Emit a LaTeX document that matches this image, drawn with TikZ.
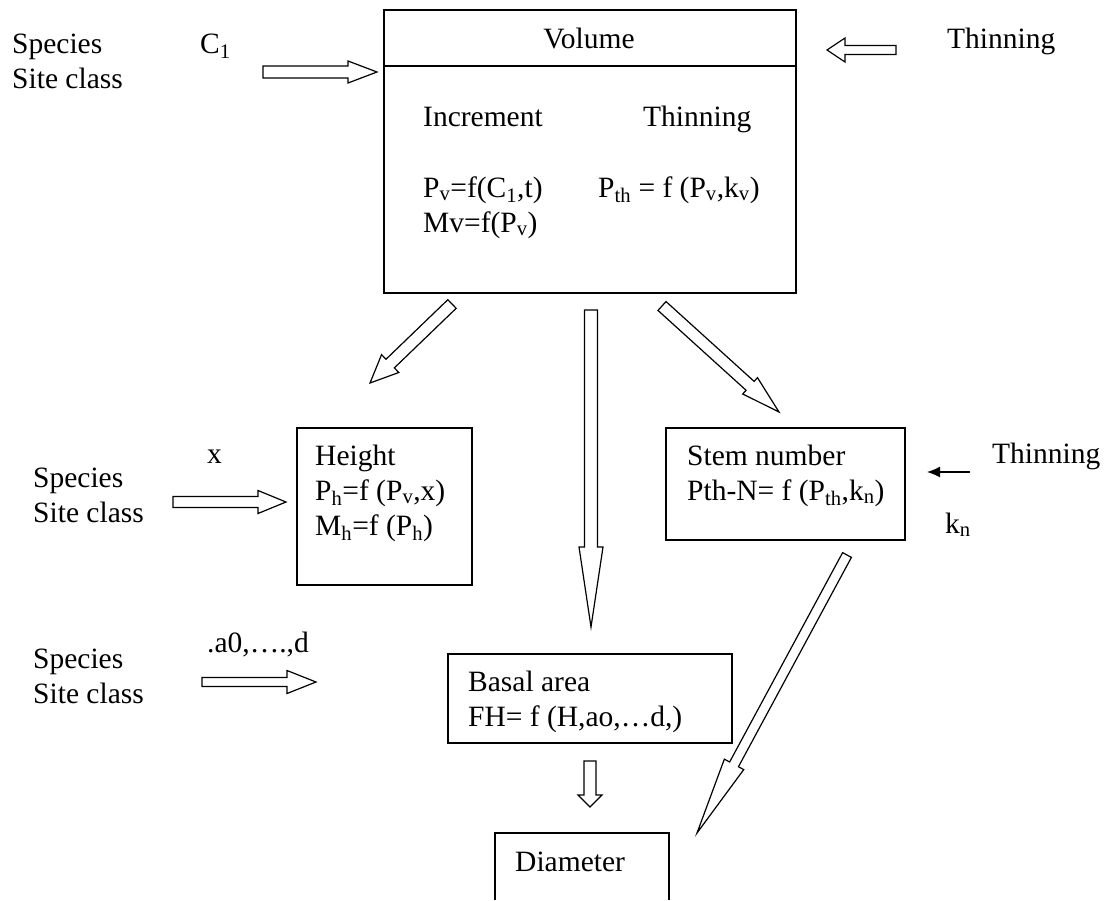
\documentclass[tikz,border=0pt]{standalone}
\usepackage{fontspec}
\setmainfont{Liberation Serif}
\usetikzlibrary{calc,arrows.meta}
\tikzset{
  boxline/.style={draw=black, line width=1.6pt},
  box/.style={boxline, rectangle, inner sep=0pt, anchor=north west},
  hollow/.style={draw=black, fill=white, line width=1.2pt, line join=miter},
  lbl/.style={inner sep=0pt, anchor=base west, font=\fontsize{29.5}{35}\selectfont},
  thinarrow/.style={draw=black, line width=1.3pt, -{Latex[length=13pt,width=11pt]}}
}
% #1 tail, #2 tip, #3 shaft half width, #4 head half width, #5 head length
\newcommand{\hollowarrow}[5]{%
  \coordinate (hbase) at ($(#2)!#5!(#1)$);
  \draw[hollow] ($(#1)!#3!90:(#2)$) -- ($(hbase)!#3!90:(#2)$) -- ($(hbase)!#4!90:(#2)$)
    -- (#2) -- ($(hbase)!#4!-90:(#2)$) -- ($(hbase)!#3!-90:(#2)$) -- ($(#1)!#3!-90:(#2)$) -- cycle;
}
\newcommand{\tl}[1]{\begin{tabular}[t]{@{}l@{}}#1\end{tabular}}
\begin{document}
\begin{tikzpicture}[x=1pt,y=-1pt]
\useasboundingbox (0,0) rectangle (1105,900);

% ---------- boxes ----------
\node[box, minimum width=412pt, minimum height=283pt] (vol) at (383,9) {};
\draw[boxline] ($(vol.north west)+(0,57)$) -- ($(vol.north east)+(0,57)$);
\node[box, minimum width=175pt, minimum height=157pt] (hgt) at (296,427) {};
\node[box, minimum width=239pt, minimum height=112pt] (stem) at (665,427) {};
\node[box, minimum width=284pt, minimum height=89pt] (bas) at (447,653) {};
\coordinate (dbl) at (495,900);
\coordinate (dtl) at (495,833);
\coordinate (dtr) at (669,833);
\coordinate (dbr) at (669,900);
\draw[boxline] (dbl) -- (dtl) -- (dtr) -- (dbr);

% ---------- texts ----------
\node[lbl] (sp1) at (12,53) {\tl{Species\\Site class}};
\node[lbl] (c1) at (200,53) {C\textsubscript{1}};
\node[lbl, anchor=base] (voltitle) at (589,48) {Volume};
\node[lbl] (incr) at (423,126) {Increment};
\node[lbl] (thin1) at (643,126) {Thinning};
\node[lbl] (pv) at (423,197) {\tl{P\textsubscript{v}=f(C\textsubscript{1},t)\\Mv=f(P\textsubscript{v})}};
\node[lbl] (pth) at (598,197) {P\textsubscript{th} = f (P\textsubscript{v},k\textsubscript{v})};
\node[lbl] (thin2) at (947,48) {Thinning};

\node[lbl] (sp2) at (33,487) {\tl{Species\\Site class}};
\node[lbl] (xl) at (207,463) {x};
\node[lbl] (hgttxt) at (315,465) {\tl{Height\\P\textsubscript{h}=f (P\textsubscript{v},x)\\M\textsubscript{h}=f (P\textsubscript{h})}};
\node[lbl] (stemtxt) at (687,465) {\tl{Stem number\\Pth-N= f (P\textsubscript{th},k\textsubscript{n})}};
\node[lbl] (thin3) at (992,463) {Thinning};
\node[lbl] (kn) at (945,533) {k\textsubscript{n}};

\node[lbl] (a0) at (207,652) {.a0,….,d};
\node[lbl] (sp3) at (33,668) {\tl{Species\\Site class}};
\node[lbl] (bastxt) at (468,691) {\tl{Basal area\\FH= f (H,ao,…d,)}};
\node[lbl] (diatxt) at (515,871) {Diameter};

% ---------- arrow end points ----------
\coordinate (a1t) at (263,72);   \coordinate (a1h) at (377,72);
\coordinate (a2t) at (896,50);   \coordinate (a2h) at (827,50);
\coordinate (a3t) at (452,304);  \coordinate (a3h) at (370,383);
\coordinate (a4t) at (591,310);  \coordinate (a4h) at (591,627);
\coordinate (a5t) at (662,306);  \coordinate (a5h) at (779,412);
\coordinate (a6t) at (173,502);  \coordinate (a6h) at (286,502);
\coordinate (a7t) at (202,682);  \coordinate (a7h) at (316,682);
\coordinate (a8t) at (847,555);  \coordinate (a8h) at (697,833);
\coordinate (a9t) at (590,761);  \coordinate (a9h) at (590,807);
\coordinate (t1t) at (970,472);  \coordinate (t1h) at (927,472);

% ---------- hollow arrows ----------
\hollowarrow{a1t}{a1h}{6pt}{11pt}{29pt}
\hollowarrow{a2t}{a2h}{4.5pt}{12pt}{18pt}
\hollowarrow{a3t}{a3h}{6pt}{12.4pt}{28pt}
\hollowarrow{a4t}{a4h}{6.5pt}{12pt}{80pt}
\hollowarrow{a5t}{a5h}{6pt}{11pt}{39pt}
\hollowarrow{a6t}{a6h}{5.5pt}{11.5pt}{28pt}
\hollowarrow{a7t}{a7h}{4.5pt}{11.5pt}{29pt}
\hollowarrow{a8t}{a8h}{5pt}{11pt}{78pt}
\hollowarrow{a9t}{a9h}{6pt}{12pt}{12pt}

% ---------- thin arrow ----------
\draw[thinarrow] (t1t) -- (t1h);
\end{tikzpicture}
\end{document}
